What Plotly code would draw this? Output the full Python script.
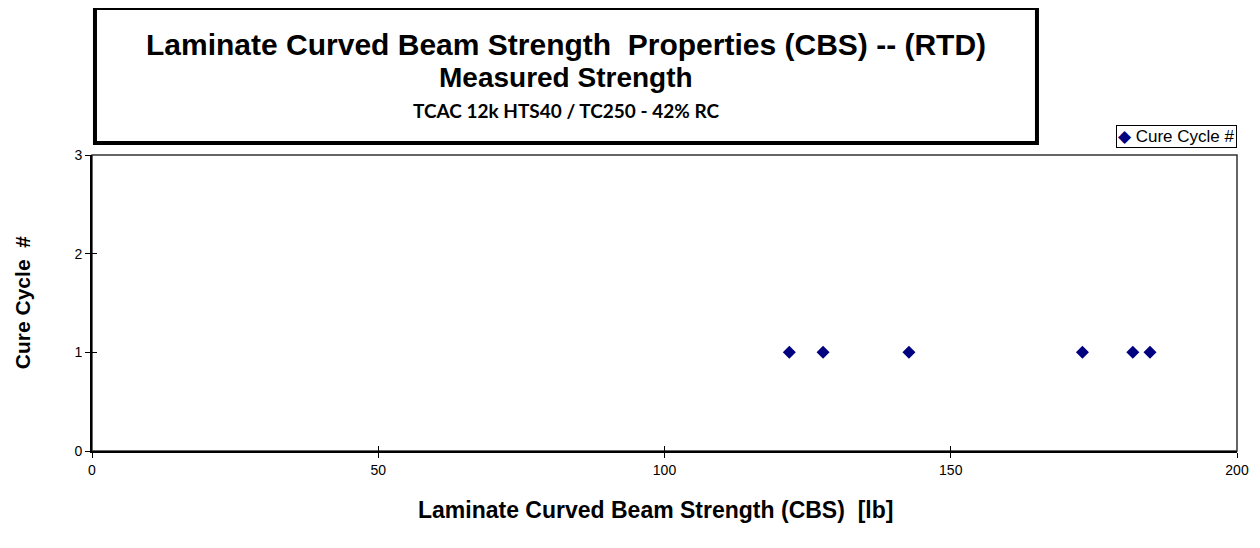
import plotly.graph_objects as go

# Datos
cbs_lb = [121.8, 127.7, 142.7, 173.0, 181.8, 184.8]
cure_cycle = [1, 1, 1, 1, 1, 1]
x_ticks = [0, 50, 100, 150, 200]
y_ticks = [0, 1, 2, 3]

fig = go.Figure()
fig.add_trace(go.Scatter(
    x=cbs_lb, y=cure_cycle, mode='markers', name='Cure Cycle #',
    marker=dict(symbol='diamond', size=10, color='#000080'),
    showlegend=False
))
# eje superpuesto solo para que las marcas crucen el eje
fig.add_trace(go.Scatter(x=[], y=[], xaxis='x2', yaxis='y2', showlegend=False))

axis_font = dict(family='Liberation Sans, Arial', size=14, color='black')
# la pagina tiene 8px de margen en el body -> figura un poco mas pequeña
fig.update_layout(
    width=1252, height=540,
    margin=dict(l=84, r=23, t=147, b=97),
    paper_bgcolor='white', plot_bgcolor='white',
    xaxis=dict(range=[0, 200], tickvals=x_ticks, showgrid=False, zeroline=False,
               showline=True, linecolor='black', linewidth=2,
               ticks='outside', ticklen=5, tickcolor='black', tickwidth=1,
               tickfont=axis_font),
    yaxis=dict(range=[0, 3], tickvals=y_ticks, showgrid=False, zeroline=False,
               showline=True, linecolor='black', linewidth=2,
               ticks='outside', ticklen=5, tickcolor='black', tickwidth=1,
               tickfont=axis_font),
    xaxis2=dict(range=[0, 200], tickvals=x_ticks, overlaying='x', anchor='y2',
                showgrid=False, zeroline=False, showticklabels=False,
                ticks='inside', ticklen=5, tickcolor='black', tickwidth=1),
    yaxis2=dict(range=[0, 3], tickvals=y_ticks, overlaying='y', anchor='x2',
                showgrid=False, zeroline=False, showticklabels=False,
                ticks='inside', ticklen=5, tickcolor='black', tickwidth=1),
)

# marco del area de trazado (arriba y derecha)
fig.add_shape(type='rect', xref='paper', yref='paper', x0=0, x1=1, y0=0, y1=1,
              line=dict(color='#333333', width=1.5), layer='below')

# caja del titulo
fig.add_shape(type='rect', xref='paper', yref='paper',
              x0=0.0026, x1=0.8253, y0=1.0405, y1=1.4966,
              line=dict(color='black', width=4), fillcolor='white')

title_font = 'Liberation Sans, Arial'
centro = dict(xref='paper', yref='paper', showarrow=False, xanchor='center', yanchor='middle')
fig.add_annotation(x=0.414, y=1.375, **centro,
                   text='<b>Laminate Curved Beam Strength  Properties (CBS) -- (RTD)</b>',
                   font=dict(family=title_font, size=30, color='black'))
fig.add_annotation(x=0.414, y=1.262, **centro,
                   text='<b>Measured Strength</b>',
                   font=dict(family=title_font, size=28, color='black'))
fig.add_annotation(x=0.414, y=1.152, **centro,
                   text='<b>TCAC 12k HTS40 / TC250 - 42% RC</b>',
                   font=dict(family='Lato, Open Sans', size=19, color='black'))

# leyenda
fig.add_annotation(xref='paper', yref='paper', x=1.0, y=1.101, xanchor='right', yanchor='top',
                   showarrow=False,
                   text="<span style='color:#000080'>◆</span> Cure Cycle #",
                   font=dict(family='Liberation Sans, Arial', size=17, color='black'),
                   bordercolor='black', borderwidth=1, borderpad=1, bgcolor='white')

# titulos de ejes
fig.add_annotation(x=0.492, y=-0.199, **centro,
                   text='<b>Laminate Curved Beam Strength (CBS)  [lb]</b>',
                   font=dict(family='Liberation Sans, Arial', size=23, color='black'))
fig.add_annotation(x=-0.061, y=0.5, **centro,
                   textangle=-90, text='<b>Cure Cycle  #</b>',
                   font=dict(family='Liberation Sans, Arial', size=21, color='black'))

fig.write_html("out.html")
